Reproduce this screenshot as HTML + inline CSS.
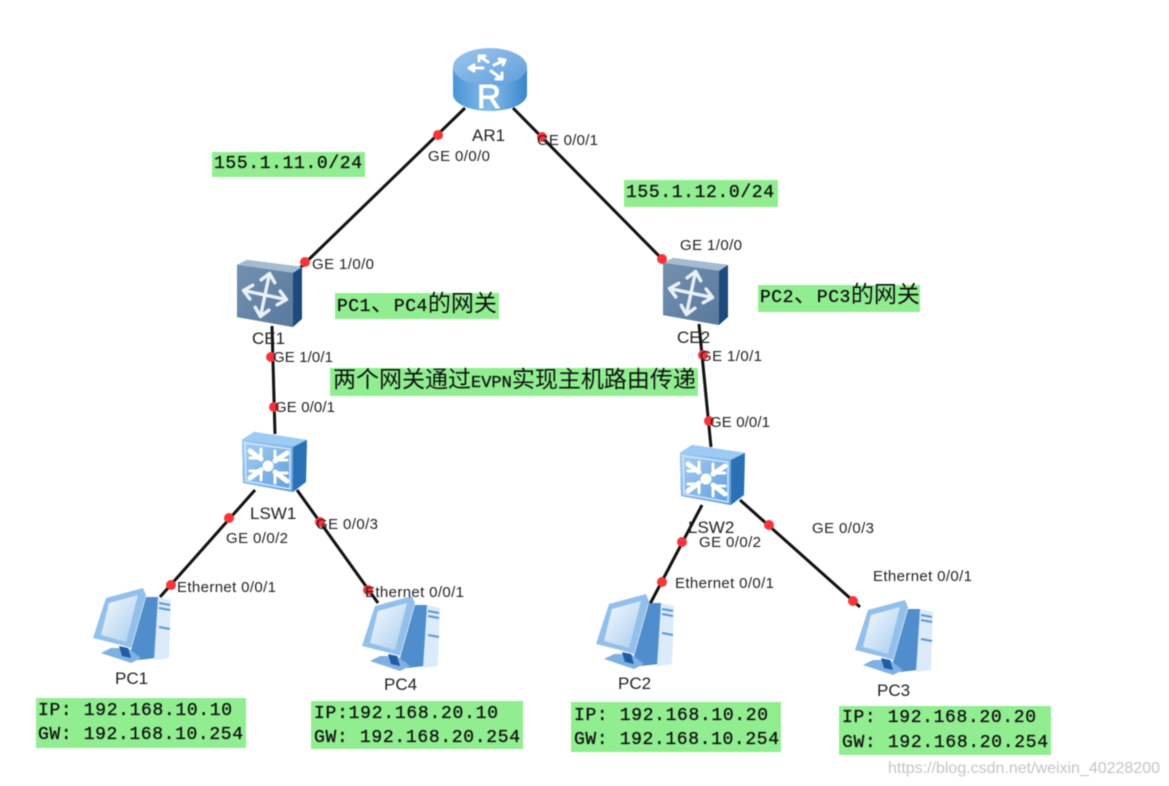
<!DOCTYPE html>
<html><head><meta charset="utf-8"><style>
html,body{margin:0;padding:0;background:#fff}
svg{display:block;filter:blur(.5px)}
.l{font:15px "Liberation Sans",sans-serif;fill:#222}
.n{font:17px "Liberation Sans",sans-serif;fill:#222}
.m{font:18px "Liberation Mono",monospace;fill:#111;stroke:#111;stroke-width:.3}
.z{font:23px "Noto Sans CJK SC","WenQuanYi Zen Hei",sans-serif;fill:#111;stroke:none}
.e{font:17px "Liberation Mono",monospace;fill:#111;stroke:#111;stroke-width:.3}
.p{letter-spacing:.5px}
</style></head><body>
<svg width="1169" height="786" viewBox="0 0 1169 786" xmlns="http://www.w3.org/2000/svg">
<defs>
<linearGradient id="rs" x1="0" x2="1" y1="0" y2="0"><stop offset="0" stop-color="#4a95d8"/><stop offset=".5" stop-color="#85bbe9"/><stop offset="1" stop-color="#3a86cc"/></linearGradient>
<linearGradient id="rt" x1="0" x2="1" y1="0" y2="1"><stop offset="0" stop-color="#9cc6ee"/><stop offset="1" stop-color="#5f9edb"/></linearGradient>
<linearGradient id="cf" x1="0" x2="1" y1="0" y2="1"><stop offset="0" stop-color="#7490ae"/><stop offset="1" stop-color="#587a9e"/></linearGradient>
<linearGradient id="sf" x1="0" x2="1" y1="0" y2="1"><stop offset="0" stop-color="#a9cff2"/><stop offset="1" stop-color="#5f9ddc"/></linearGradient>
<linearGradient id="sc" x1="0" x2="1" y1="0" y2="1"><stop offset="0" stop-color="#f7fbff"/><stop offset="1" stop-color="#a9cdee"/></linearGradient>
<g id="arrow4" fill="none" stroke="#e9f0f6" stroke-linecap="round" stroke-linejoin="round" stroke-width="3.4">
<g transform="rotate(12)">
<path d="M-19 0H19M0 -19V19"/>
<path d="M-22 0l8 -7M-22 0l8 7M22 0l-8 -7M22 0l-8 7M0 -22l-7 8M0 -22l7 8M0 22l-7 -8M0 22l7 -8"/>
</g>
</g>
<g id="ce">
<path d="M0 6L10 1L65 8L65 60L56 68L0 58Z" fill="#1d4a7c"/>
<path d="M0 6L10 1L65 8L56 14Z" fill="#a4bbd2"/>
<path d="M0 6L56 14L56 68L0 58Z" fill="url(#cf)"/>
<use href="#arrow4" x="28" y="36"/>
</g>
<g id="sw">
<path d="M1 8L13 0L66 8L65 50L52 60L2 51Z" fill="#2a70b4"/>
<path d="M1 8L13 0L66 8L52 15Z" fill="#9ccbf3"/>
<path d="M1 8L52 15L52 60L2 51Z" fill="url(#sf)"/>
<path d="M4 11L49 17L49 57L5 49Z" fill="none" stroke="#cfe6fb" stroke-width="1.5"/>
<g stroke="#fff" stroke-width="5" stroke-linecap="round" fill="none">
<path d="M9 19L20 27M46 21L34 29M9 46L20 38M46 49L34 40"/>
<path d="M9 26H20V17M46 28H34V19M9 39H20V48M46 41H34V51" stroke-width="3"/>
</g>
<circle cx="27" cy="34" r="5.5" fill="#fff"/>
</g>
<g id="pc">
<path d="M52 9L64 9L62 70L44 72L37 62Z" fill="#4f8dcc"/>
<path d="M64 9L77 12L75 70L60 72Z" fill="#dcebf9"/>
<path d="M65 15L76 17M65 20L76 22M65 39L76 41" stroke="#5b97d2" stroke-width="2"/>
<path d="M7 65L17 60L34 60L47 70L37 75Z" fill="#7fb0e2"/>
<path d="M25 58L34 60L37 70L28 68Z" fill="#1f5ca5"/>
<path d="M-1 50L12 10L49 0L52 7L37 60L27 57Z" fill="#93c0ea"/>
<path d="M7 47L15 15L44 7L32 54Z" fill="url(#sc)"/>
</g>
</defs>
<rect width="1169" height="786" fill="#fff"/>

<g fill="#90ee90">
<rect x="212" y="152" width="153" height="25"/>
<rect x="624" y="180" width="154" height="27"/>
<rect x="335" y="293" width="164" height="26"/>
<rect x="758" y="285" width="162" height="27"/>
<rect x="330" y="368" width="368" height="28"/>
<rect x="36" y="698" width="210" height="50"/>
<rect x="311" y="701" width="212" height="48"/>
<rect x="571" y="702" width="210" height="50"/>
<rect x="839" y="706" width="212" height="49"/>
</g>

<g stroke="#111" stroke-width="3" fill="none">
<path d="M465 108L300 268"/>
<path d="M513 108L665 262"/>
<path d="M272 326L275 434"/>
<path d="M699 324L711 447"/>
<path d="M255 490L160 597"/>
<path d="M297 490L378 603"/>
<path d="M702 505L650 604"/>
<path d="M740 500L860 607"/>
</g>

<!-- Router -->
<path d="M453 67V94C453 104 470 111 490 111C510 111 527 104 527 94V67Z" fill="url(#rs)"/>
<ellipse cx="490" cy="67" rx="37" ry="19" fill="url(#rt)"/>
<g fill="none" stroke="#fff" stroke-width="3" stroke-linecap="round" stroke-linejoin="round">
<path d="M479 56L488 62M479 56l0 5M479 56l6 0M505 60L494 65M505 60l-6 -1M505 60l-2 5M469 68L483 68M469 68l5 -3M469 68l5 3M502 79L491 71M502 79l-6 0M502 79l0 -6"/>
</g>
<text x="477" y="108" style="font:33px 'Liberation Sans',sans-serif;fill:#fff;stroke:#fff;stroke-width:1">R</text>

<use href="#ce" x="237" y="259"/>
<use href="#ce" x="663" y="257"/>
<use href="#sw" x="241" y="432"/>
<use href="#sw" x="679" y="445"/>
<use href="#pc" x="94" y="588"/>
<use href="#pc" x="363" y="596"/>
<use href="#pc" x="597" y="594"/>
<use href="#pc" x="856" y="600"/>

<g fill="#f8343a">
<circle cx="438" cy="135" r="5"/><circle cx="305" cy="262" r="5"/><circle cx="542" cy="137" r="5"/><circle cx="662" cy="259" r="5"/>
<circle cx="271" cy="357" r="5"/><circle cx="274" cy="407" r="5"/><circle cx="703" cy="355" r="5"/><circle cx="709" cy="421" r="5"/>
<circle cx="229" cy="518" r="5"/><circle cx="320" cy="522" r="5"/><circle cx="171" cy="585" r="5"/><circle cx="368" cy="590" r="5"/>
<circle cx="682" cy="542" r="5"/><circle cx="769" cy="525" r="5"/><circle cx="662" cy="582" r="5"/><circle cx="853" cy="601" r="5"/>
</g>

<text x="472" y="141" class="n">AR1</text>
<text x="252" y="344" class="n">CE1</text>
<text x="677" y="343" class="n">CE2</text>
<text x="250" y="519" class="n">LSW1</text>
<text x="688" y="533" class="n">LSW2</text>
<text x="115" y="684" class="n">PC1</text>
<text x="384" y="690" class="n">PC4</text>
<text x="618" y="689" class="n">PC2</text>
<text x="877" y="696" class="n">PC3</text>

<text x="428" y="161" class="l" textLength="62">GE 0/0/0</text>
<text x="537" y="145" class="l" textLength="61">GE 0/0/1</text>
<text x="312" y="269" class="l" textLength="62">GE 1/0/0</text>
<text x="680" y="250" class="l" textLength="62">GE 1/0/0</text>
<text x="273" y="362" class="l" textLength="60">GE 1/0/1</text>
<text x="275" y="412" class="l" textLength="60">GE 0/0/1</text>
<text x="700" y="361" class="l" textLength="62">GE 1/0/1</text>
<text x="710" y="427" class="l" textLength="60">GE 0/0/1</text>
<text x="226" y="543" class="l" textLength="62">GE 0/0/2</text>
<text x="316" y="529" class="l" textLength="62">GE 0/0/3</text>
<text x="699" y="547" class="l" textLength="62">GE 0/0/2</text>
<text x="812" y="533" class="l" textLength="62">GE 0/0/3</text>
<text x="177" y="592" class="l" textLength="99">Ethernet 0/0/1</text>
<text x="365" y="597" class="l" textLength="99">Ethernet 0/0/1</text>
<text x="675" y="588" class="l" textLength="99">Ethernet 0/0/1</text>
<text x="873" y="581" class="l" textLength="99">Ethernet 0/0/1</text>

<text x="214" y="168" class="m" textLength="148">155.1.11.0/24</text>
<text x="626" y="197" class="m" textLength="148">155.1.12.0/24</text>
<text x="337" y="311" class="m"><tspan class="p">PC1</tspan><tspan class="z">、</tspan><tspan class="p">PC4</tspan><tspan class="z">的网关</tspan></text>
<text x="760" y="302" class="m"><tspan class="p">PC2</tspan><tspan class="z">、</tspan><tspan class="p">PC3</tspan><tspan class="z">的网关</tspan></text>
<text x="333" y="387" class="z">两个网关通过<tspan class="e">EVPN</tspan>实现主机路由传递</text>

<text x="38" y="715" class="m" textLength="194">IP: 192.168.10.10</text>
<text x="38" y="739" class="m" textLength="205">GW: 192.168.10.254</text>
<text x="314" y="718" class="m" textLength="184">IP:192.168.20.10</text>
<text x="314" y="742" class="m" textLength="206">GW: 192.168.20.254</text>
<text x="574" y="720" class="m" textLength="194">IP: 192.168.10.20</text>
<text x="574" y="744" class="m" textLength="205">GW: 192.168.10.254</text>
<text x="842" y="722" class="m" textLength="194">IP: 192.168.20.20</text>
<text x="842" y="747" class="m" textLength="206">GW: 192.168.20.254</text>

<text x="888" y="773" style="font:16px 'Liberation Sans',sans-serif;fill:#c4c4c4" textLength="272">https://blog.csdn.net/weixin_40228200</text>
</svg>
</body></html>
